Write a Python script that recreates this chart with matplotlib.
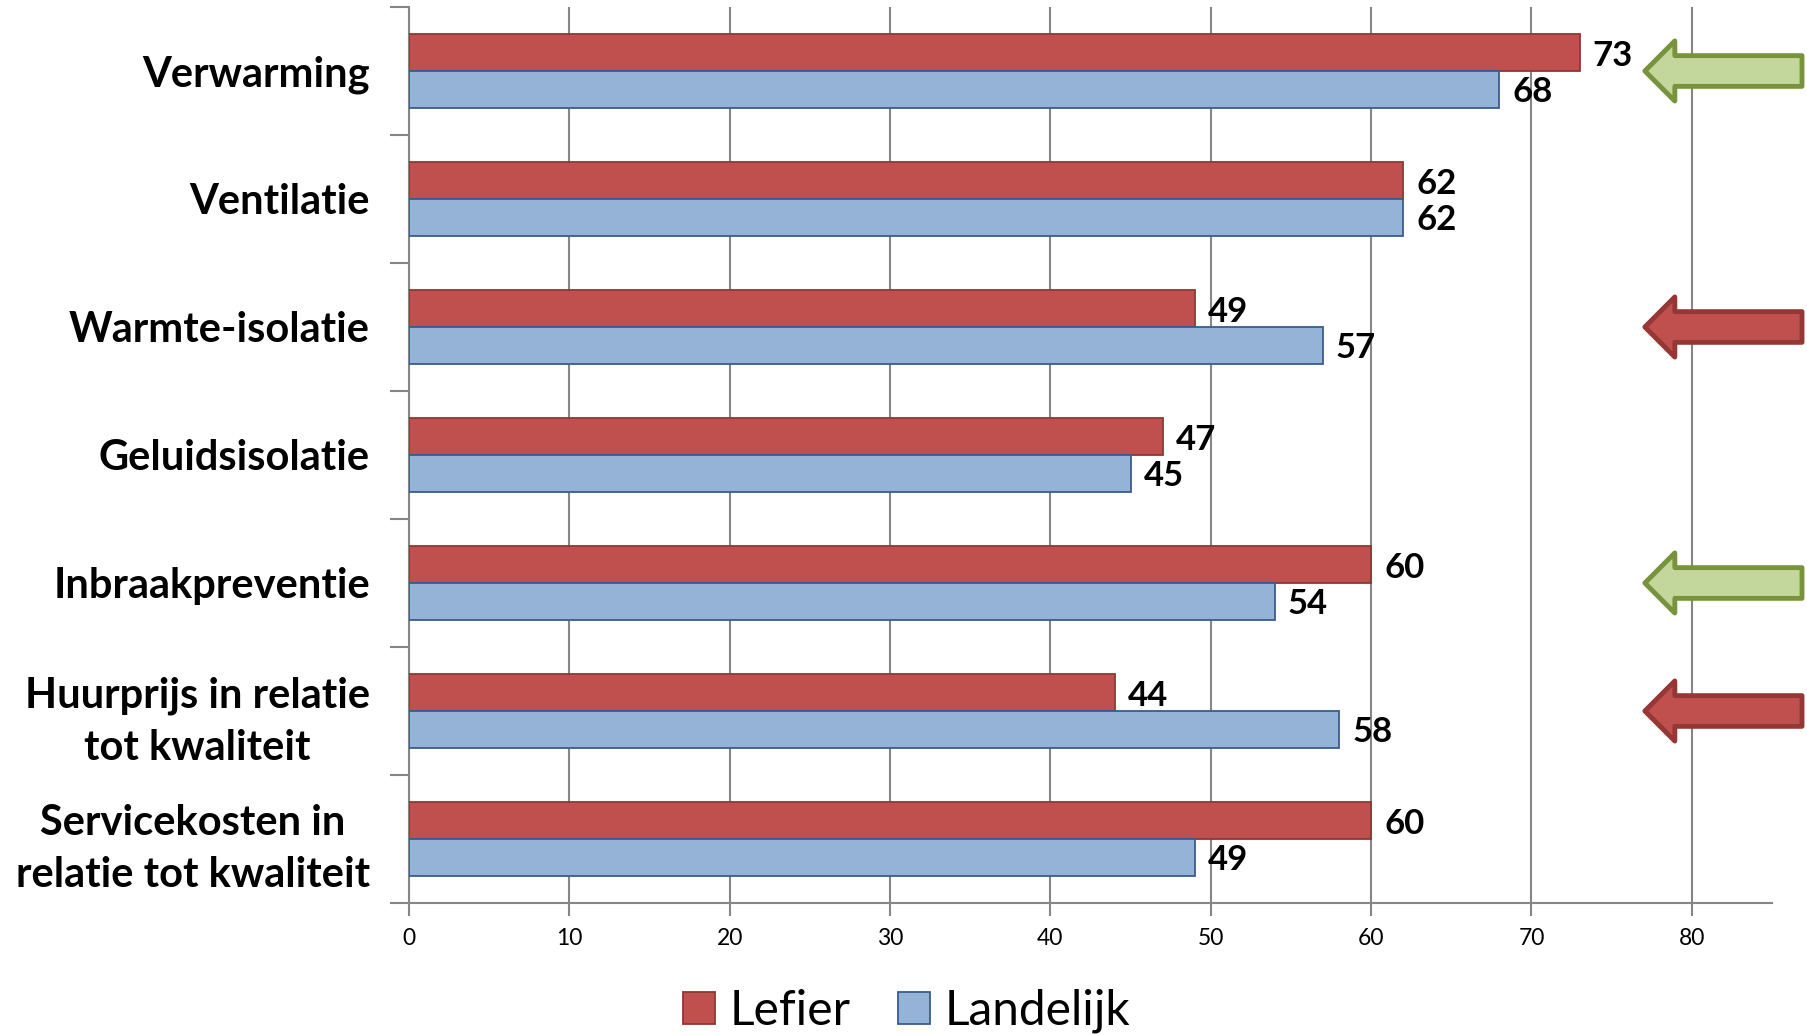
import numpy as np
import matplotlib
matplotlib.use("Agg")
import matplotlib.pyplot as plt
from matplotlib.patches import Patch, Polygon
from matplotlib.transforms import blended_transform_factory

plt.rcParams['font.family'] = ['Lato', 'DejaVu Sans']

# Data
categories = ["Verwarming", "Ventilatie", "Warmte-isolatie", "Geluidsisolatie",
              "Inbraakpreventie", "Huurprijs in relatie\ntot kwaliteit",
              "Servicekosten in\nrelatie tot kwaliteit"]
lefier = [73, 62, 49, 47, 60, 44, 60]
landelijk = [68, 62, 57, 45, 54, 58, 49]
x_ticks = [0, 10, 20, 30, 40, 50, 60, 70, 80]

# arrows on the right: category index -> colour (green = better, red = worse)
arrow_rows = [0, 2, 4, 5]
arrow_kind = ["up", "down", "up", "down"]

red, red_edge = "#C0504D", "#8C3836"
blue, blue_edge = "#95B3D7", "#385D8A"
grid_col = "#868686"
arrow_style = {"up": ("#C3D69B", "#77933C"), "down": ("#C0504D", "#953735")}

fig = plt.figure(figsize=(18.08, 10.35), dpi=100)
ax = fig.add_axes([0.2262, 0.12754, 0.7539, 0.8657])

y = np.arange(len(categories))
h = 0.289
ax.barh(y - h / 2, lefier, height=h, color=red, edgecolor=red_edge, linewidth=1.3, zorder=3)
ax.barh(y + h / 2, landelijk, height=h, color=blue, edgecolor=blue_edge, linewidth=1.3, zorder=3)

for yi, v in zip(y, lefier):
    ax.annotate(str(v), (v, yi - h / 2), xytext=(13, -3), textcoords="offset pixels",
                va="center", ha="left", fontsize=25, fontweight="bold")
for yi, v in zip(y, landelijk):
    ax.annotate(str(v), (v, yi + h / 2), xytext=(13, -3), textcoords="offset pixels",
                va="center", ha="left", fontsize=25, fontweight="bold")

ax.set_xlim(0, 85)
ax.set_ylim(len(categories) - 0.5, -0.5)
ax.set_xticks(x_ticks)
ax.set_xticklabels([str(t) for t in x_ticks], fontsize=16.5)
ax.tick_params(axis="x", length=9, width=1.5, color=grid_col, pad=9)

ax.set_yticks(y)
ax.set_yticklabels(categories, fontsize=30, fontweight="bold", multialignment="center",
                   linespacing=1.45)
ax.tick_params(axis="y", length=0, pad=28)
ax.set_yticks(np.arange(-0.5, len(categories), 1.0), minor=True)
ax.tick_params(axis="y", which="minor", length=14, width=1.5, color=grid_col)

ax.grid(axis="x", color=grid_col, linewidth=1.5, zorder=0)
ax.set_axisbelow(True)
for s in ["top", "right"]:
    ax.spines[s].set_visible(False)
for s in ["left", "bottom"]:
    ax.spines[s].set_color(grid_col)
    ax.spines[s].set_linewidth(1.5)

# block arrows to the right of the bars
trans = blended_transform_factory(ax.transAxes, ax.transData)
tip, base, end = 0.9067, 0.9287, 1.022
hh, sh = 0.235, 0.12
for row, kind in zip(arrow_rows, arrow_kind):
    fc, ec = arrow_style[kind]
    pts = [(tip, row), (base, row - hh), (base, row - sh), (end, row - sh),
           (end, row + sh), (base, row + sh), (base, row + hh)]
    ax.add_patch(Polygon(pts, closed=True, transform=trans, facecolor=fc,
                         edgecolor=ec, linewidth=3.5, joinstyle="round",
                         clip_on=False, zorder=4))

handles = [Patch(facecolor=red, edgecolor=red_edge, linewidth=1.3, label="Lefier"),
           Patch(facecolor=blue, edgecolor=blue_edge, linewidth=1.3, label="Landelijk")]
fig.legend(handles=handles, loc="center left", bbox_to_anchor=(0.378, 0.0232),
           ncol=2, frameon=False, fontsize=34.5, handlelength=0.66, handleheight=0.66,
           handletextpad=0.3, columnspacing=1.0, borderpad=0, borderaxespad=0)

fig.savefig("out.png", dpi=100)
